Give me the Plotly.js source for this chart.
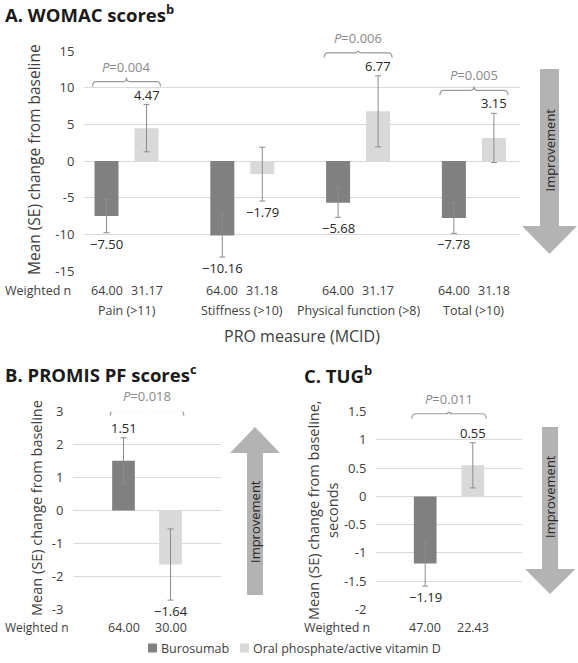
<!DOCTYPE html>
<html><head><meta charset="utf-8">
<script src="https://cdn.plot.ly/plotly-3.0.1.min.js"></script>
<style>html,body{margin:0;padding:0;background:#fff}#chart{width:578px;height:663px}</style>
</head><body><div id="chart"></div>
<script>
// ---------- DATA ----------
const seriesNames = ["Burosumab", "Oral phosphate/active vitamin D"];

// Panel A: WOMAC
const womacCategories = ["Pain (>11)", "Stiffness (>10)", "Physical function (>8)", "Total (>10)"];
const womacBuro = [-7.50, -10.16, -5.68, -7.78];
const womacBuroSE = [2.28, 2.94, 2.00, 2.09];
const womacOral = [4.47, -1.79, 6.77, 3.15];
const womacOralSE = [3.22, 3.67, 4.85, 3.35];
const womacNBuro = ["64.00", "64.00", "64.00", "64.00"];
const womacNOral = ["31.17", "31.18", "31.17", "31.18"];
const womacP = [{cat: 0, text: "0.004"}, {cat: 2, text: "0.006"}, {cat: 3, text: "0.005"}];
const womacTicks = [15, 10, 5, 0, -5, -10, -15];

// Panel B: PROMIS PF
const promisBuro = [1.51];
const promisBuroSE = [0.70];
const promisOral = [-1.64];
const promisOralSE = [1.08];
const promisNBuro = ["64.00"];
const promisNOral = ["30.00"];
const promisP = [{cat: 0, text: "0.018"}];
const promisTicks = [3, 2, 1, 0, -1, -2, -3];

// Panel C: TUG
const tugBuro = [-1.19];
const tugBuroSE = [0.40];
const tugOral = [0.55];
const tugOralSE = [0.40];
const tugNBuro = ["47.00"];
const tugNOral = ["22.43"];
const tugP = [{cat: 0, text: "0.011"}];
const tugTicks = [1.5, 1, 0.5, 0, -0.5, -1, -1.5, -2];

// ---------- STYLE / LAYOUT HELPERS ----------
const W = 578, H = 663;
const FONT = "'Open Sans', 'DejaVu Sans', sans-serif";
const C_BURO = "#808080", C_ORAL = "#d9d9d9", C_TXT = "#404040", C_GRID = "#d9d9d9";
const C_ERR = "#8c8c8c", C_P = "#8a8a8a", C_ARROW = "#b3b3b3";
const FS = 12.5;
const fx = p => p / W;
const fy = p => 1 - p / H;
const fmt = v => (v < 0 ? "\u2212" : "") + Math.abs(v).toFixed(2);

const panels = [
  {key: "", cats: womacCategories, buro: womacBuro, buroSE: womacBuroSE, oral: womacOral, oralSE: womacOralSE,
   nB: womacNBuro, nO: womacNOral, P: womacP, ticks: womacTicks,
   left: 84, right: 520, top: 51, bottom: 271, unitPx: 115.8, firstPx: 126.5, barPx: 24, sepPx: 20, pGap: 23,
   nY: 290, nLabelLeft: 3, nSize: 12.5},
  {key: "2", cats: [""], buro: promisBuro, buroSE: promisBuroSE, oral: promisOral, oralSE: promisOralSE,
   nB: promisNBuro, nO: promisNOral, P: promisP, ticks: promisTicks,
   left: 73, right: 221, top: 411.7, bottom: 609.3, unitPx: 148, firstPx: 147, barPx: 22.7, sepPx: 23.5, pGap: 27,
   nY: 627, nLabelLeft: 3, nSize: 12},
  {key: "3", cats: [""], buro: tugBuro, buroSE: tugBuroSE, oral: tugOral, oralSE: tugOralSE,
   nB: tugNBuro, nO: tugNOral, P: tugP, ticks: tugTicks,
   left: 376, right: 522, top: 411.7, bottom: 609.3, unitPx: 146, firstPx: 449, barPx: 22.7, sepPx: 23.8, pGap: 29,
   nY: 627, nLabelLeft: 302, nSize: 12.5}
];

const data = [], annotations = [], shapes = [];
const layout = {
  width: W, height: H, margin: {l: 0, r: 0, t: 0, b: 0},
  paper_bgcolor: "#fff", plot_bgcolor: "#fff",
  font: {family: FONT, size: FS, color: C_TXT},
  barmode: "overlay", showlegend: false,
  annotations: annotations, shapes: shapes
};

panels.forEach(pn => {
  const xa = "x" + pn.key, ya = "y" + pn.key;
  const idx = pn.buro.map((_, i) => i);
  const w = pn.barPx / pn.unitPx, sep = pn.sepPx / pn.unitPx;
  const r0 = -(pn.firstPx - pn.left) / pn.unitPx;
  const r1 = r0 + (pn.right - pn.left) / pn.unitPx;
  const yr = [Math.min(...pn.ticks), Math.max(...pn.ticks)];
  const pxPerUnit = (pn.bottom - pn.top) / (yr[1] - yr[0]);
  const yPaper = v => fy(pn.bottom) + (v - yr[0]) / (yr[1] - yr[0]) * (pn.bottom - pn.top) / H;

  layout["xaxis" + pn.key] = {domain: [fx(pn.left), fx(pn.right)], range: [r0, r1], anchor: ya,
    showgrid: false, zeroline: false, showline: false, showticklabels: false, ticks: "", fixedrange: true};
  layout["yaxis" + pn.key] = {domain: [fy(pn.bottom), fy(pn.top)], range: yr, anchor: xa,
    tickvals: pn.ticks, ticktext: pn.ticks.map(t => String(t)), showgrid: true, gridcolor: C_GRID, gridwidth: 1,
    zeroline: false, showline: false, ticks: "outside", ticklen: 6, tickcolor: "rgba(0,0,0,0)",
    tickfont: {size: 13, color: C_TXT}, fixedrange: true};

  [[pn.buro, pn.buroSE, C_BURO, -1, pn.nB, seriesNames[0]], [pn.oral, pn.oralSE, C_ORAL, 1, pn.nO, seriesNames[1]]]
  .forEach(([vals, se, col, sgn, nvals, name]) => {
    data.push({type: "bar", name: name, x: idx, y: vals, xaxis: xa, yaxis: ya,
      width: w, offset: sgn * sep - w / 2, marker: {color: col, line: {width: 0}},
      error_y: {type: "data", array: se, visible: true, color: C_ERR, thickness: 1, width: 3},
      showlegend: false, hoverinfo: "skip"});
    vals.forEach((v, i) => {
      const pos = v >= 0;
      annotations.push({xref: xa, yref: "paper", x: i + sgn * sep, y: yPaper(pos ? v + se[i] : v - se[i]),
        text: fmt(v), showarrow: false, xanchor: "center", yanchor: pos ? "bottom" : "top", yshift: pos ? -1 : 0,
        font: {size: 13, color: "#262626"}});
      annotations.push({xref: xa, yref: "paper", x: i + sgn * sep, y: fy(pn.nY), xanchor: "center", yanchor: "middle",
        text: nvals[i], showarrow: false, font: {size: FS, color: C_TXT}});
    });
  });
  annotations.push({xref: "paper", yref: "paper", x: fx(pn.nLabelLeft), y: fy(pn.nY), xanchor: "left",
    yanchor: "middle", text: "Weighted n", showarrow: false, font: {size: pn.nSize, color: C_TXT}});

  pn.P.forEach(p => {
    const i = p.cat;
    const tops = [pn.buro[i] + pn.buroSE[i], pn.oral[i] + pn.oralSE[i]];
    const yl = Math.max(...tops) + pn.pGap / pxPerUnit;
    const ye = yl - 5 / pxPerUnit, yn = yl + 4 / pxPerUnit;
    const x0 = i - sep - w / 2 - 2 / pn.unitPx, x1 = i + sep + w / 2 + 2 / pn.unitPx;
    const d = 4 / pn.unitPx, dm = 3 / pn.unitPx, xm = i;
    shapes.push({type: "path", xref: xa, yref: ya, line: {color: "#9a9a9a", width: 1.2},
      path: `M${x0},${ye} Q${x0},${yl} ${x0 + d},${yl} L${xm - dm},${yl} Q${xm},${yl} ${xm},${yn} ` +
            `Q${xm},${yl} ${xm + dm},${yl} L${x1 - d},${yl} Q${x1},${yl} ${x1},${ye}`});
    annotations.push({xref: xa, yref: "paper", x: xm, y: yPaper(yn), xanchor: "center", yanchor: "bottom", yshift: 0,
      showarrow: false, text: "<i>P</i>=" + p.text, font: {size: 13, color: C_P}});
  });
});

// category labels for panel A
womacCategories.forEach((c, i) => {
  annotations.push({xref: "x", yref: "paper", x: i, y: fy(310), xanchor: "center", yanchor: "middle",
    text: c.replace(/>/g, "&gt;"), showarrow: false, font: {size: FS, color: C_TXT}});
});

// titles and free text
const T = (text, x, y, size, opts = {}) => annotations.push(Object.assign({xref: "paper", yref: "paper",
  x: fx(x), y: fy(y), xanchor: "center", yanchor: "middle", text: text, showarrow: false,
  font: {size: size, color: opts.color || "#1a1a1a"}}, opts.extra || {}));
T("<b>A. WOMAC scores<sup>b</sup></b>", 3, 13, 18.5, {extra: {xanchor: "left"}});
T("<b>B. PROMIS PF scores<sup>c</sup></b>", 3, 373, 18.5, {extra: {xanchor: "left"}});
T("<b>C. TUG<sup>b</sup></b>", 302, 374, 18.5, {extra: {xanchor: "left"}});
T("Mean (SE) change from baseline", 34, 160, 15.5, {color: C_TXT, extra: {textangle: -90}});
T("Mean (SE) change from baseline", 36, 508, 14.5, {color: C_TXT, extra: {textangle: -90}});
T("Mean (SE) change from baseline,<br>seconds", 323, 510, 14.5, {color: C_TXT, extra: {textangle: -90}});
T("PRO measure (MCID)", 302, 336, 16, {color: C_TXT});

// legend (drawn manually to match spacing)
const legendItems = [{name: seriesNames[0], color: C_BURO, sq: 148}, {name: seriesNames[1], color: C_ORAL, sq: 240}];
legendItems.forEach(it => {
  shapes.push({type: "rect", xref: "paper", yref: "paper", x0: fx(it.sq), x1: fx(it.sq + 9),
    y0: fy(652.5), y1: fy(643.5), fillcolor: it.color, line: {width: 0}});
  T(it.name, it.sq + 11, 648, FS, {color: C_TXT, extra: {xanchor: "left"}});
});

// improvement arrows (decoration)
const poly = pts => "M" + pts.map(p => fx(p[0]) + "," + fy(p[1])).join(" L") + " Z";
shapes.push({type: "path", xref: "paper", yref: "paper", fillcolor: C_ARROW, line: {width: 0},
  path: poly([[540, 69], [559, 69], [559, 226], [577, 226], [549.5, 254], [522, 226], [540, 226]])});
shapes.push({type: "path", xref: "paper", yref: "paper", fillcolor: C_ARROW, line: {width: 0},
  path: poly([[247, 595], [263, 595], [263, 453], [280, 453], [255, 427], [230, 453], [247, 453]])});
shapes.push({type: "path", xref: "paper", yref: "paper", fillcolor: C_ARROW, line: {width: 0},
  path: poly([[542, 427], [558, 427], [558, 569], [575.5, 569], [550, 594], [525, 569], [542, 569]])});
T("Improvement", 549.5, 150, 13, {color: "#262626", extra: {textangle: -90}});
T("Improvement", 255, 522, 13, {color: "#262626", extra: {textangle: -90}});
T("Improvement", 550, 497, 13, {color: "#262626", extra: {textangle: -90}});

Plotly.newPlot("chart", data, layout, {staticPlot: true, displayModeBar: false});
</script></body></html>
